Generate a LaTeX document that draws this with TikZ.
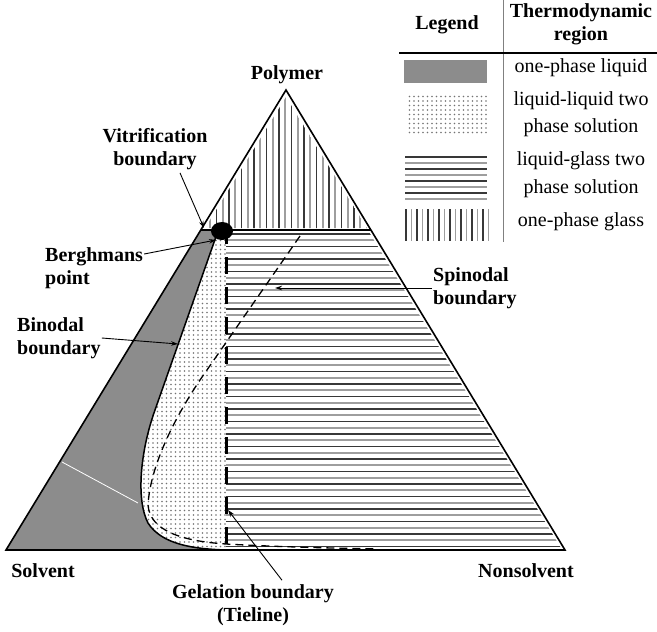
\documentclass[tikz,border=0pt]{standalone}
\usepackage{fontspec}
\setmainfont{Liberation Serif}
\usetikzlibrary{arrows.meta, patterns.meta}

\tikzset{
  lbl/.style={font=\fontsize{20}{23}\selectfont\bfseries, inner sep=1pt},
  txt/.style={font=\fontsize{20}{23}\selectfont, align=center, inner sep=1pt},
  pointer/.style={-{Stealth[length=7pt,width=4.5pt]}, line width=0.9pt},
  liqfill/.style={fill=black!45},
  dotfill/.style={pattern={Dots[distance=4.5pt, radius=0.8pt]}, pattern color=black!55},
  darkline/.style={line width=1.4pt, black!78},
  lightline/.style={line width=1.8pt, black!38}
}

\begin{document}
\begin{tikzpicture}[x=1pt, y=-1pt]

\useasboundingbox (0,0) rectangle (657,632);

% one-phase glass (vertical hatching)
\begin{scope}
\clip (205,228) -- (286,97) -- (367,228) -- cycle;
\foreach \x in {204,216.5,...,370} {
  \draw[darkline] (\x,231) -- (\x,88);
  \draw[lightline] (\x+6.25,231) -- (\x+6.25,88);
}
\end{scope}

% liquid-glass two phase (horizontal hatching)
\begin{scope}
\clip (226,232) -- (369,232) -- (561,548) -- (226,548) -- cycle;
\foreach \y in {234,246.5,...,550} {
  \draw[darkline] (226,\y) -- (570,\y);
  \draw[lightline] (226,\y+6.25) -- (570,\y+6.25);
}
\end{scope}

% one-phase liquid
\fill[liqfill] (6,550) -- (200.8,230) -- (218,231) -- (155,410)
  .. controls (140,452) and (136,500) .. (148,523)
  .. controls (162,545) and (195,549) .. (226,550) -- cycle;
\draw[white, line width=0.8pt] (62,462) -- (138,503);

% liquid-liquid two phase
\fill[dotfill] (218,231) -- (155,410)
  .. controls (140,452) and (136,500) .. (148,523)
  .. controls (162,545) and (195,549) .. (226,550) -- (226,231) -- cycle;

% binodal
\draw[line width=1.5pt] (218,231) -- (155,410)
  .. controls (140,452) and (136,500) .. (148,523)
  .. controls (162,545) and (195,549) .. (226,550);

% spinodal
\draw[line width=1.3pt, dash pattern=on 8pt off 5pt] (300,236) -- (200,380)
  .. controls (170,425) and (150,470) .. (148,505)
  .. controls (150,530) and (180,541) .. (226,544)
  .. controls (280,547) and (330,548) .. (378,549);

% triangle and vitrification line
\draw[line width=1.6pt] (6,550) -- (286,90) -- (565,550) -- cycle;
\draw[line width=1.5pt] (200.8,230) -- (370.9,230);

% gelation tieline
\draw[line width=3pt, dash pattern=on 17pt off 13pt] (226,227) -- (226,550);

% Berghmans point
\coordinate (bp) at (222,231);
\fill (bp) ellipse [x radius=11pt, y radius=9pt];

% corner labels
\node[lbl] (poly) at (287,75) {Polymer};
\node[lbl] (solv) at (43,571) {Solvent};
\node[lbl] (nonsolv) at (526,571) {Nonsolvent};

% boundary labels
\node[lbl, align=center] (vitri) at (155,149) {Vitrification\\boundary};
\node[lbl, align=left, anchor=west] (bergh) at (44,268) {Berghmans\\point};
\node[lbl, align=left, anchor=west] (bino) at (16,338) {Binodal\\boundary};
\node[lbl, align=left, anchor=west] (spino) at (432,288) {Spinodal\\boundary};
\node[lbl, align=center] (gel) at (253,605) {Gelation boundary\\(Tieline)};

\coordinate (vitrip) at (204,228);
\coordinate (berghp) at (216,240);
\coordinate (binop) at (178,344);
\coordinate (spinop) at (275,288);
\coordinate (gelp) at (228,510);

\draw[pointer] ([xshift=25pt,yshift=-2pt]vitri.south) -- (vitrip);
\draw[pointer] ([yshift=14pt]bergh.east) -- (berghp);
\draw[pointer] (bino.east) -- (binop);
\draw[pointer] (spino.west) -- (spinop);
\draw[pointer] ([xshift=29pt,yshift=3pt]gel.north) -- (gelp);

% legend
\draw[gray, line width=0.8pt] (503,0) -- (503,242);
\draw[line width=2.2pt] (399,53) -- (657,53);
\node[lbl] (leghead) at (447,25) {Legend};
\node[lbl, align=center] (reghead) at (581,24) {Thermodynamic\\region};

\fill[liqfill] (404,60) rectangle (487,83);
\fill[dotfill] (408,95) rectangle (487,133);
\foreach \y in {157,169,...,195} {
  \draw[darkline] (405,\y) -- (487,\y);
  \draw[lightline] (405,\y+6) -- (487,\y+6);
}
\foreach \x in {406,417,...,487} {
  \draw[darkline] (\x,209) -- (\x,241);
  \draw[lightline] (\x+5.5,209) -- (\x+5.5,241);
}

\node[txt] (liq) at (581,68) {one-phase liquid};
\node[txt] (liqliq) at (581,114) {liquid-liquid two\\[4pt]phase solution};
\node[txt] (liqgl) at (581,175) {liquid-glass two\\[5pt]phase solution};
\node[txt] (glass) at (581,222) {one-phase glass};

\end{tikzpicture}
\end{document}
